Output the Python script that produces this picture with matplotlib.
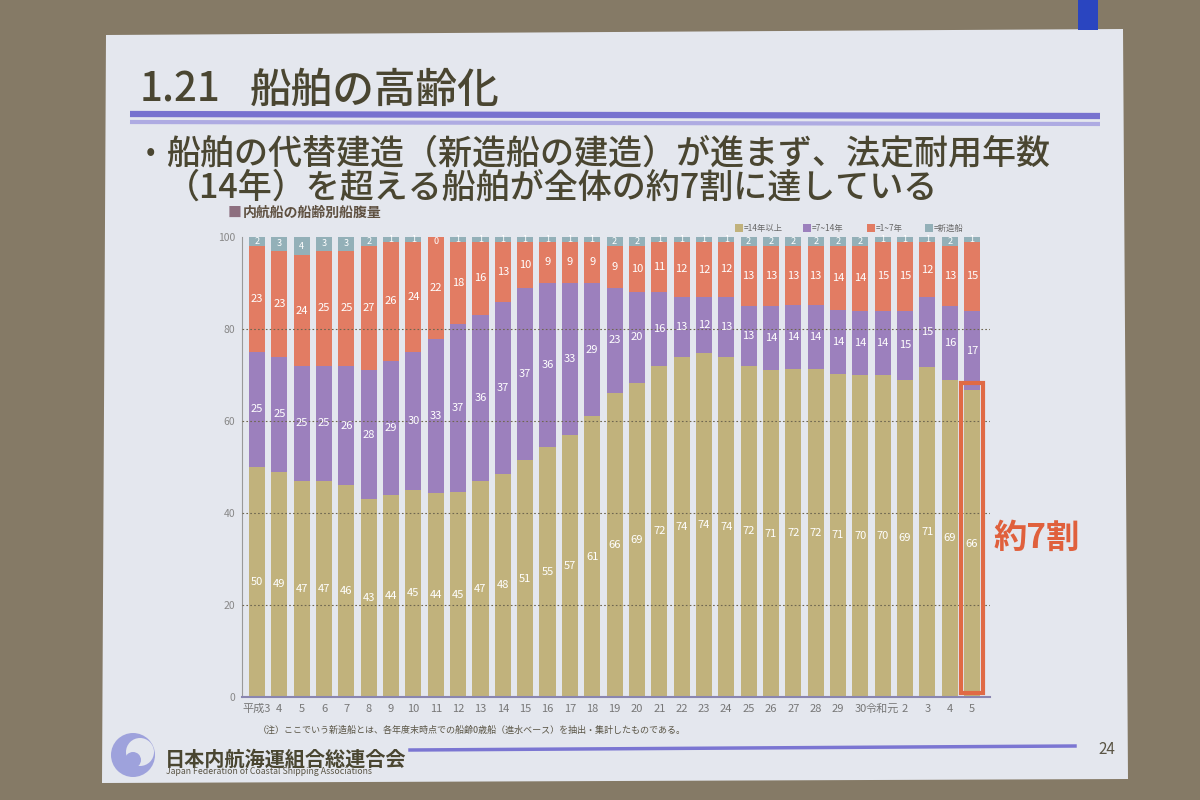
import matplotlib.pyplot as plt
import numpy as np
from matplotlib.patches import Polygon, Rectangle, Circle

plt.rcParams['font.family'] = ['Noto Sans CJK JP', 'DejaVu Sans']

# data: 内航船の船齢別船腹量 (%)
years = ["平成3", "4", "5", "6", "7", "8", "9", "10", "11", "12", "13", "14",
         "15", "16", "17", "18", "19", "20", "21", "22", "23", "24", "25", "26",
         "27", "28", "29", "30", "令和元", "2", "3", "4", "5"]
over14 = [50, 49, 47, 47, 46, 43, 44, 45, 44, 45, 47, 48, 51, 55, 57, 61, 66,
          69, 72, 74, 74, 74, 72, 71, 72, 72, 71, 70, 70, 69, 71, 69, 66]
age7_14 = [25, 25, 25, 25, 26, 28, 29, 30, 33, 37, 36, 37, 37, 36, 33, 29, 23,
           20, 16, 13, 12, 13, 13, 14, 14, 14, 14, 14, 14, 15, 15, 16, 17]
age1_7 = [23, 23, 24, 25, 25, 27, 26, 24, 22, 18, 16, 13, 10, 9, 9, 9, 9,
          10, 11, 12, 12, 12, 13, 13, 13, 13, 14, 14, 15, 15, 12, 13, 15]
new_ships = [2, 3, 4, 3, 3, 2, 1, 1, 0, 1, 1, 1, 1, 1, 1, 1, 2,
             2, 1, 1, 1, 1, 2, 2, 2, 2, 2, 2, 1, 1, 1, 2, 1]

series = [("=14年以上", over14, "#c1b27c", 8),
          ("=7~14年", age7_14, "#9c80bd", 8),
          ("=1~7年", age1_7, "#e27c63", 8),
          ("=新造船", new_ships, "#93b0b8", 6.5)]

TXT = "#4a4631"

fig = plt.figure(figsize=(12, 8), dpi=100)
fig.patch.set_facecolor("#857a66")

# slide background drawn in pixel coordinates
bg = fig.add_axes([0, 0, 1, 1])
bg.set_xlim(0, 1200)
bg.set_ylim(800, 0)
bg.axis("off")
bg.add_patch(Polygon([(106, 35), (1123, 29), (1128, 779), (102, 783)],
                     closed=True, facecolor="#e4e7ee", edgecolor="none"))
bg.add_patch(Rectangle((1078, 0), 20, 30, facecolor="#2a45c0", edgecolor="none"))

bg.text(140, 90, "1.21", fontsize=29, color=TXT, va="center", fontweight="medium")
bg.text(250, 90, "船舶の高齢化", fontsize=30, color=TXT, va="center",
        fontweight="medium")
bg.plot([130, 1100], [114, 116], color="#7772cf", lw=4.5, solid_capstyle="butt")
bg.plot([130, 1100], [122, 124], color="#aeabe2", lw=3, solid_capstyle="butt")

bg.text(146, 153, "•", fontsize=20, color=TXT, va="center")
bg.text(166, 154, "船舶の代替建造（新造船の建造）が進まず、法定耐用年数",
        fontsize=24.5, color=TXT, va="center", fontweight="medium")
bg.text(166, 188, "（14年）を超える船舶が全体の約7割に達している",
        fontsize=24.5, color=TXT, va="center", fontweight="medium")

bg.text(228, 213, "■", fontsize=10, color="#8d6f7f", va="center")
bg.text(243, 213, "内航船の船齢別船腹量", fontsize=10, color="#5e5040",
        va="center", fontweight="bold")

# legend
lx = [735, 803, 867, 925]
for (name, vals, col, fs), x in zip(series, lx):
    bg.add_patch(Rectangle((x, 224), 8, 8, facecolor=col, edgecolor="none"))
    bg.text(x + 9, 228.5, name, fontsize=6, color="#666", va="center")

bg.text(258, 730, "（注）ここでいう新造船とは、各年度末時点での船齢0歳船（進水ベース）を抽出・集計したものである。",
        fontsize=6.5, color="#5a5545", va="center")

# footer
bg.add_patch(Circle((133, 755), 22, facecolor="#9ea2dc", edgecolor="none"))
bg.add_patch(Circle((140, 752), 14, facecolor="#e4e7ee", edgecolor="none"))
bg.add_patch(Circle((133, 760), 8, facecolor="#9ea2dc", edgecolor="none"))
bg.text(165, 759, "日本内航海運組合総連合会", fontsize=14.5, color=TXT,
        va="center", fontweight="bold")
bg.text(166, 772, "Japan Federation of Coastal Shipping Associations",
        fontsize=6.3, color="#5a5545", va="center")
bg.plot([410, 1075], [750, 746], color="#7b76d2", lw=2.5)
bg.text(1098, 749, "24", fontsize=11, color="#5a5545", va="center")

# chart
ax = fig.add_axes([242 / 1200, 1 - 697 / 800, (990 - 242) / 1200, (697 - 237) / 800])
ax.patch.set_alpha(0)
x = np.arange(len(years))
totals = np.sum([s[1] for s in series], axis=0).astype(float)
bottom = np.zeros(len(years))
for name, vals, col, fs in series:
    vals = np.array(vals, dtype=float)
    h = vals / totals * 100  # stack each year to 100%
    ax.bar(x, h, width=0.72, bottom=bottom, color=col, zorder=2, clip_on=False)
    for xi, b, hv, v in zip(x, bottom, h, vals):
        ax.text(xi, b + hv / 2 if v > 0 else b - 1, f"{int(v)}", ha="center",
                va="center", color="white", fontsize=fs, zorder=6)
    bottom += h

for g in [20, 40, 60, 80]:
    ax.axhline(g, color="#6e6650", lw=0.8, ls=(0, (1.5, 2)), zorder=4)

h_last = over14[-1] / totals[-1] * 100
ax.add_patch(Rectangle((len(years) - 1 - 0.48, 0.8), 0.96, h_last + 0.8,
                       facecolor="none", edgecolor="#e06a45", lw=3,
                       zorder=7, clip_on=False))
bg.text(993, 538, "約7割", fontsize=24, color="#e0603c", va="center",
        fontweight="bold")

ax.set_xlim(-0.67, len(years) - 1 + 0.8)
ax.set_ylim(0, 100)
ax.set_xticks(x)
ax.set_xticklabels(years, fontsize=8, color="#777")
ax.set_yticks([0, 20, 40, 60, 80, 100])
ax.set_yticklabels(["0", "20", "40", "60", "80", "100"], fontsize=7.5, color="#888")
ax.tick_params(length=0, pad=5)
ax.spines["top"].set_visible(False)
ax.spines["right"].set_visible(False)
ax.spines["left"].set_color("#999")
ax.spines["bottom"].set_color("#8a86b0")
ax.spines["bottom"].set_linewidth(1.5)

fig.savefig("out.png", dpi=100, facecolor=fig.get_facecolor())
